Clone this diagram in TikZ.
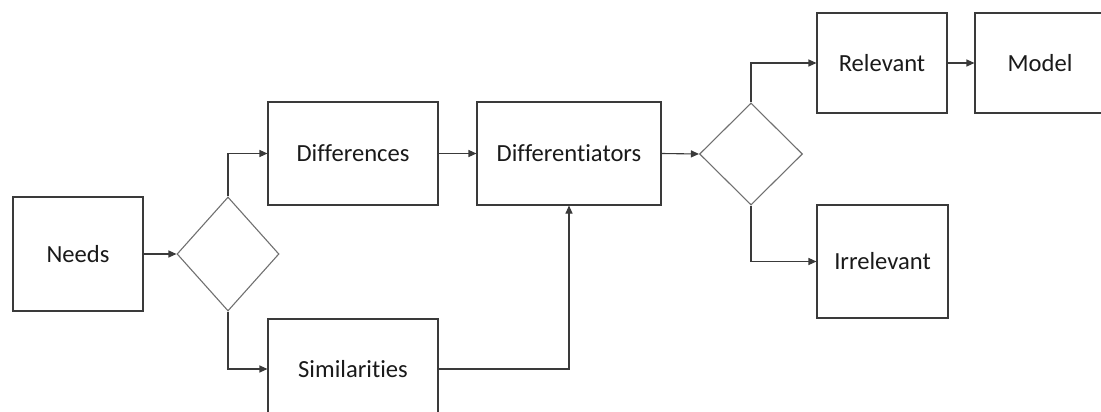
\documentclass[tikz,border=0pt]{standalone}
\usepackage{fontspec}
\setmainfont[Ligatures={NoCommon}]{Carlito}
\usetikzlibrary{arrows.meta,shapes.geometric}
\definecolor{boxline}{HTML}{3A3A3A}
\definecolor{decline}{HTML}{707070}
\definecolor{txt}{HTML}{1A1A1A}
\begin{document}
\begin{tikzpicture}[x=1pt,y=-1pt,
  stepbox/.style={draw=boxline,line width=1.1pt,fill=white,inner sep=0pt,
    text=txt,font=\fontsize{24.6}{30}\selectfont},
  decision/.style={draw=decline,line width=1.1pt,diamond,inner sep=0pt},
  flow/.style={draw=boxline,line width=1.1pt,-{Triangle[length=8pt,width=7pt]}}]
\useasboundingbox (0,0) rectangle (1101,412);
\clip (0,0) rectangle (1101,412);
% process boxes
\node[stepbox,minimum width=130pt,minimum height=114pt] (needs) at (78,254) {Needs};
\node[stepbox,minimum width=170pt,minimum height=103pt] (diff) at (353,153.5) {Differences};
\node[stepbox,minimum width=170pt,minimum height=100pt] (sim) at (353,369) {Similarities};
\node[stepbox,minimum width=184pt,minimum height=103pt] (dtor) at (569,153.5) {Differentiators};
\node[stepbox,minimum width=130pt,minimum height=100pt] (rel) at (882,63) {Relevant};
\node[stepbox,minimum width=130pt,minimum height=100pt] (model) at (1040,63) {Model};
\node[stepbox,minimum width=131pt,minimum height=113pt] (irr) at (882.5,261.5) {Irrelevant};
% decisions
\node[decision,minimum width=102pt,minimum height=114pt] (d1) at (228,254) {};
\node[decision,minimum width=103pt,minimum height=102pt] (d2) at (751,154) {};
% connectors
\draw[flow] (needs.east) -- (d1.west);
\draw[flow] (d1.north) |- (diff.west);
\draw[flow] (d1.south) |- (sim.west);
\draw[flow] (diff.east) -- (dtor.west);
\draw[flow] (sim.east) -| (dtor.south);
\draw[flow] (dtor.east) -- (d2.west);
\draw[flow] (d2.north) |- (rel.west);
\draw[flow] (d2.south) |- (irr.west);
\draw[flow] (rel.east) -- (model.west);
\end{tikzpicture}
\end{document}
